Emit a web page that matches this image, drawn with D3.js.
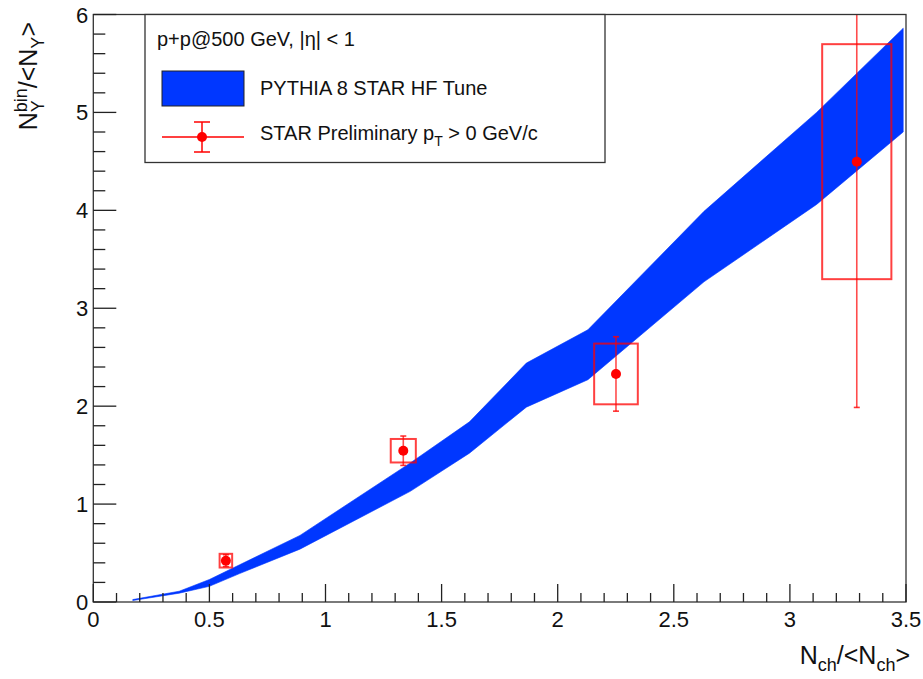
<!DOCTYPE html>
<html><head><meta charset="utf-8">
<script src="https://cdn.jsdelivr.net/npm/d3@7"></script>
<style>body{margin:0;background:#fff}</style>
</head><body>
<svg id="c" width="923" height="679"></svg>
<script>
// ---- data ----
const bandX     = [0.17, 0.37, 0.50, 0.63, 0.89, 1.365, 1.62, 1.865, 2.13, 2.63, 3.115, 3.488];
const bandUpper = [0.025,0.11, 0.23, 0.38, 0.68, 1.42, 1.84, 2.44, 2.78, 3.99, 5.00, 5.86];
const bandLower = [0.015,0.09, 0.16, 0.29, 0.54, 1.13, 1.52, 1.99, 2.27, 3.27, 4.06, 4.80];
const dataX     = [0.571, 1.335, 2.251, 3.288];
const dataY     = [0.422, 1.545, 2.329, 4.497];
const statErr   = [0.06, 0.15, 0.38, 2.51];
const sysErr    = [0.07, 0.12, 0.31, 1.20];
const sysXHalf  = [0.027, 0.054, 0.094, 0.149];
const xTickLabels = ["0","0.5","1","1.5","2","2.5","3","3.5"];
const yTickLabels = ["0","1","2","3","4","5","6"];
const legendHeader = "p+p@500 GeV, |η| < 1";
const legendBand = "PYTHIA 8 STAR HF Tune";

const svg = d3.select("#c");
const F = "'Liberation Sans', Arial, Helvetica, sans-serif";
const L = 93.3, R = 906, T = 14.5, B = 602;
const x = d3.scaleLinear().domain([0, 3.5]).range([L, R]);
const y = d3.scaleLinear().domain([0, 6]).range([B, T]);
const BLUE = "#0037ff", RED = "#ff0000";

svg.append("defs").append("clipPath").attr("id","clip")
  .append("rect").attr("x",L).attr("y",T).attr("width",R-L).attr("height",B-T);

const plot = svg.append("g").attr("clip-path","url(#clip)");

// band
const bandData = bandX.map((v,i)=>({x:v, lo:bandLower[i], hi:bandUpper[i]}));
plot.append("path").datum(bandData)
  .attr("d", d3.area().x(d=>x(d.x)).y0(d=>y(d.lo)).y1(d=>y(d.hi)))
  .attr("fill", BLUE).attr("stroke", BLUE).attr("stroke-width", 0.6);

// data points
const pts = dataX.map((v,i)=>({x:v, y:dataY[i], s:statErr[i], sy:sysErr[i], sx:sysXHalf[i]}));
const pg = plot.selectAll("g.pt").data(pts).join("g").attr("class","pt");
pg.append("rect")
  .attr("x", d=>x(d.x-d.sx)).attr("y", d=>y(d.y+d.sy))
  .attr("width", d=>x(d.x+d.sx)-x(d.x-d.sx)).attr("height", d=>y(d.y-d.sy)-y(d.y+d.sy))
  .attr("fill","none").attr("stroke",RED).attr("stroke-opacity",0.75).attr("stroke-width",2);
pg.append("line")
  .attr("x1", d=>x(d.x)).attr("x2", d=>x(d.x))
  .attr("y1", d=>y(d.y+d.s)).attr("y2", d=>y(d.y-d.s))
  .attr("stroke",RED).attr("stroke-opacity",0.7).attr("stroke-width",1.6);
pg.append("line")
  .attr("x1", d=>x(d.x)-3).attr("x2", d=>x(d.x)+3)
  .attr("y1", d=>y(d.y+d.s)).attr("y2", d=>y(d.y+d.s))
  .attr("stroke",RED).attr("stroke-opacity",0.8).attr("stroke-width",1.6);
pg.append("line")
  .attr("x1", d=>x(d.x)-3).attr("x2", d=>x(d.x)+3)
  .attr("y1", d=>y(d.y-d.s)).attr("y2", d=>y(d.y-d.s))
  .attr("stroke",RED).attr("stroke-opacity",0.8).attr("stroke-width",1.6);
pg.append("circle").attr("cx", d=>x(d.x)).attr("cy", d=>y(d.y)).attr("r",5).attr("fill",RED);

// frame
svg.append("rect").attr("x",L).attr("y",T).attr("width",R-L).attr("height",B-T)
  .attr("fill","none").attr("stroke","#333").attr("stroke-width",1.3);

// x axis ticks (inside, upward)
const xMinor = d3.range(0, 36).map(i=>i/10);
const gx = svg.append("g").attr("transform",`translate(0,${B})`);
gx.selectAll("line.mt").data(xMinor).join("line")
  .attr("x1",d=>x(d)).attr("x2",d=>x(d))
  .attr("y1",0).attr("y2",(d,i)=> i%5===0 ? -18 : -9)
  .attr("stroke","#222").attr("stroke-width",1.3);
gx.selectAll("text").data(xTickLabels).join("text")
  .attr("x",(d)=>x(+d)).attr("y",25)
  .attr("text-anchor","middle").attr("font-family",F).attr("font-size",22).attr("fill","#111")
  .text(d=>d);

// y axis ticks (inside, rightward)
const yMinor = d3.range(0, 31).map(i=>i/5);
const gy = svg.append("g").attr("transform",`translate(${L},0)`);
gy.selectAll("line.mt").data(yMinor).join("line")
  .attr("y1",d=>y(d)).attr("y2",d=>y(d))
  .attr("x1",0).attr("x2",(d,i)=> i%5===0 ? 23 : 12)
  .attr("stroke","#222").attr("stroke-width",1.3);
gy.selectAll("text").data(yTickLabels).join("text")
  .attr("x",-5).attr("y",d=>y(+d)+8)
  .attr("text-anchor","end").attr("font-family",F).attr("font-size",22).attr("fill","#111")
  .text(d=>d);

function measure(txt, size){
  const t = svg.append("text").attr("font-family",F).attr("font-size",size).text(txt);
  const w = t.node().getComputedTextLength(); t.remove(); return w;
}

// x title: N_ch/<N_ch>
(function(){
  const t = svg.append("text").attr("x",910).attr("y",664).attr("text-anchor","end")
    .attr("font-family",F).attr("font-size",25).attr("fill","#111");
  t.append("tspan").text("N");
  t.append("tspan").attr("font-size",18).attr("dy",7).text("ch");
  t.append("tspan").attr("dy",-7).text("/<N");
  t.append("tspan").attr("font-size",18).attr("dy",7).text("ch");
  t.append("tspan").attr("dy",-7).text(">");
})();

// y title: N_Y^bin/<N_Y>
(function(){
  const g = svg.append("g").attr("transform","translate(37,22) rotate(-90)");
  const wBin = measure("bin",18), wY = measure("Y",18);
  const t = g.append("text").attr("x",0).attr("y",0).attr("text-anchor","end")
    .attr("font-family",F).attr("font-size",25).attr("fill","#111");
  t.append("tspan").text("N");
  t.append("tspan").attr("font-size",18).attr("dy",-10).text("bin");
  t.append("tspan").attr("font-size",18).attr("dx",-wBin).attr("dy",17).text("Y");
  t.append("tspan").attr("dx",wBin-wY).attr("dy",-7).text("/<N");
  t.append("tspan").attr("font-size",18).attr("dy",7).text("Y");
  t.append("tspan").attr("dy",-7).text(">");
})();

// legend
const lg = svg.append("g");
lg.append("rect").attr("x",145).attr("y",T).attr("width",460).attr("height",148)
  .attr("fill","#fff").attr("stroke","#333").attr("stroke-width",1.3);
lg.append("text").attr("x",157).attr("y",46).attr("font-family",F).attr("font-size",20).attr("fill","#111")
  .text(legendHeader);
lg.append("rect").attr("x",162).attr("y",71).attr("width",82).attr("height",35)
  .attr("fill",BLUE).attr("stroke","#222").attr("stroke-width",1);
lg.append("text").attr("x",260).attr("y",95).attr("font-family",F).attr("font-size",20).attr("fill","#111")
  .text(legendBand);
lg.append("line").attr("x1",162).attr("x2",244).attr("y1",137).attr("y2",137).attr("stroke",RED).attr("stroke-width",1.5);
lg.append("line").attr("x1",202).attr("x2",202).attr("y1",122).attr("y2",152).attr("stroke",RED).attr("stroke-width",1.5);
lg.append("line").attr("x1",194).attr("x2",210).attr("y1",122).attr("y2",122).attr("stroke",RED).attr("stroke-width",1.5);
lg.append("line").attr("x1",194).attr("x2",210).attr("y1",152).attr("y2",152).attr("stroke",RED).attr("stroke-width",1.5);
lg.append("circle").attr("cx",202).attr("cy",137).attr("r",5).attr("fill",RED);
(function(){
  const t = lg.append("text").attr("x",260).attr("y",140).attr("font-family",F).attr("font-size",20).attr("fill","#111");
  t.append("tspan").text("STAR Preliminary p");
  t.append("tspan").attr("font-size",14).attr("dy",6).text("T");
  t.append("tspan").attr("dy",-6).text(" > 0 GeV/c");
})();
</script>
</body></html>
